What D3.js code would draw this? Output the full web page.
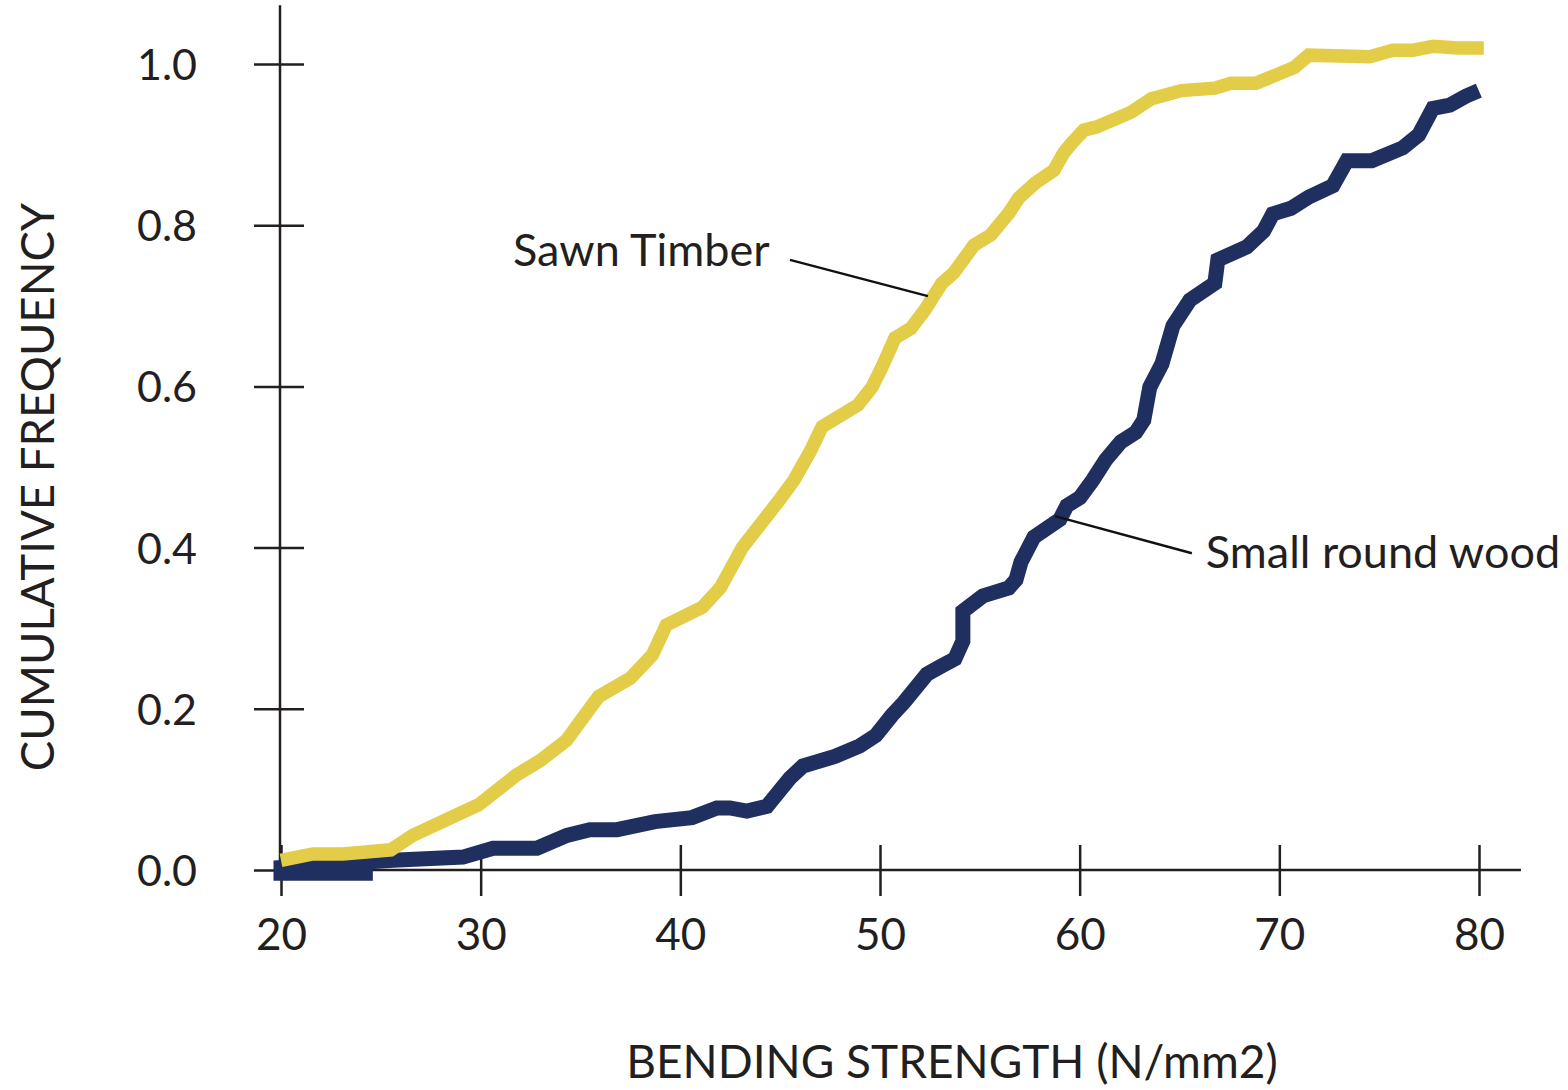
<!DOCTYPE html>
<html>
<head>
<meta charset="utf-8">
<script src="https://cdn.jsdelivr.net/npm/d3@7"></script>
<style>
  body { margin: 0; background: #fff; }
  text { font-family: Lato, "Open Sans", sans-serif; fill: #231f20; }
</style>
</head>
<body>
<div id="chart"></div>
<script>
// bending strength (N/mm2) vs cumulative frequency
const sawnX = [20.0, 21.6, 23.1, 25.5, 26.6, 29.9, 31.8, 33.0, 34.3, 35.9, 37.5, 38.6, 39.3, 41.1, 42.0, 43.1,
  44.9, 45.7, 46.5, 47.1, 48.9, 49.6, 50.1, 50.75, 51.55, 52.25, 53.1, 53.7, 54.7, 55.55, 56.45, 56.96,
  57.76, 58.71, 59.21, 59.61, 60.21, 60.86, 62.56, 63.6, 65.1, 66.77, 67.57, 68.82, 70.77, 71.47, 74.53,
  75.68, 76.68, 77.69, 78.94, 80.24];
const sawnY = [0.012, 0.020, 0.020, 0.025, 0.043, 0.081, 0.118, 0.136, 0.161, 0.215, 0.238, 0.267, 0.304, 0.326, 0.350, 0.400,
  0.457, 0.484, 0.519, 0.550, 0.577, 0.599, 0.624, 0.660, 0.672, 0.695, 0.728, 0.741, 0.775, 0.788, 0.815, 0.834,
  0.852, 0.868, 0.890, 0.902, 0.918, 0.922, 0.940, 0.957, 0.967, 0.970, 0.976, 0.976, 0.996, 1.011, 1.009,
  1.017, 1.017, 1.022, 1.020, 1.020];

const roundX = [24.6, 20.0, 20.0, 25.61, 29.11, 30.62, 32.82, 34.32, 35.47, 36.83, 38.73, 40.58, 41.83, 42.48, 43.33, 44.34,
  45.49, 46.14, 47.74, 48.99, 49.79, 50.6, 51.2, 52.35, 53.0, 53.75, 54.15, 54.15, 55.15, 56.45, 56.81, 57.06,
  57.71, 59.01, 59.36, 60.01, 60.66, 61.31, 62.06, 62.81, 63.21, 63.51, 64.12, 64.67, 65.52, 66.77, 66.92,
  68.37, 69.22, 69.67, 70.58, 71.48, 72.68, 73.38, 74.63, 76.18, 76.98, 77.69, 78.54, 79.34, 79.99];
const roundY = [-0.004, -0.004, 0.003, 0.012, 0.016, 0.027, 0.027, 0.043, 0.050, 0.050, 0.060, 0.065, 0.077, 0.077, 0.073, 0.079,
  0.114, 0.129, 0.141, 0.154, 0.167, 0.192, 0.208, 0.243, 0.252, 0.262, 0.284, 0.321, 0.340, 0.350, 0.360, 0.382,
  0.413, 0.435, 0.452, 0.462, 0.484, 0.509, 0.531, 0.543, 0.558, 0.599, 0.628, 0.675, 0.707, 0.728, 0.757,
  0.773, 0.793, 0.814, 0.821, 0.835, 0.849, 0.880, 0.880, 0.896, 0.912, 0.945, 0.949, 0.960, 0.967];

const xTicks = [20, 30, 40, 50, 60, 70, 80];
const yTicks = [0, 0.2, 0.4, 0.6, 0.8, 1.0];

// label text, anchor and leader line end points (data units)
const labels = [
  {name: "Sawn Timber", tx: 31.62, ty: 0.749, from: [45.49, 0.757], to: [52.4, 0.712]},
  {name: "Small round wood", tx: 66.32, ty: 0.375, from: [65.62, 0.393], to: [58.76, 0.439]}
];

const width = 1568, height = 1090;

const svg = d3.select("#chart")
  .append("svg")
  .attr("width", width)
  .attr("height", height);

const x = d3.scaleLinear().domain([20, 80]).range([281, 1479]);
const y = d3.scaleLinear().domain([0, 1]).range([870, 64]);

// axes
const xAxis = svg.append("g")
  .attr("transform", `translate(0,${y(0)})`)
  .call(d3.axisBottom(x).tickValues(xTicks).tickSize(0).tickFormat(d3.format("d")));
xAxis.select(".domain").remove();
xAxis.selectAll(".tick line").attr("y1", -25).attr("y2", 26).attr("stroke", "#231f20").attr("stroke-width", 2.5);
xAxis.selectAll(".tick text").attr("y", 64).attr("dy", "0.36em")
  .attr("font-size", 44).attr("fill", "#231f20").style("font-family", "Lato, sans-serif");

const yAxis = svg.append("g")
  .attr("transform", `translate(${x(20) - 1},0)`)
  .call(d3.axisLeft(y).tickValues(yTicks).tickSize(0).tickFormat(d3.format(".1f")));
yAxis.select(".domain").remove();
yAxis.selectAll(".tick line").attr("x1", -26).attr("x2", 24).attr("stroke", "#231f20").attr("stroke-width", 2.5);
yAxis.selectAll(".tick text").attr("x", -83).attr("dy", "0.36em")
  .attr("font-size", 43).attr("fill", "#231f20").style("font-family", "Lato, sans-serif");

// axis lines
svg.append("line")
  .attr("x1", x(20) - 1).attr("x2", x(20) - 1)
  .attr("y1", y(1.073)).attr("y2", y(0))
  .attr("stroke", "#231f20").attr("stroke-width", 2.5);
svg.append("line")
  .attr("x1", x(20) - 1).attr("x2", x(82.1))
  .attr("y1", y(0)).attr("y2", y(0))
  .attr("stroke", "#231f20").attr("stroke-width", 2.5);

// curves
const line = d3.line().x(d => x(d[0])).y(d => y(d[1]));

svg.append("path")
  .datum(roundX.map((v, i) => [v, roundY[i]]))
  .attr("d", line)
  .attr("fill", "none")
  .attr("stroke", "#1f2f5f")
  .attr("stroke-width", 15)
  .attr("stroke-linejoin", "miter")
  .attr("stroke-linecap", "butt");

svg.append("path")
  .datum(sawnX.map((v, i) => [v, sawnY[i]]))
  .attr("d", line)
  .attr("fill", "none")
  .attr("stroke", "#e3cc48")
  .attr("stroke-width", 13.5)
  .attr("stroke-linejoin", "miter")
  .attr("stroke-linecap", "butt");

// labels with leader lines
svg.selectAll(".leader")
  .data(labels)
  .enter().append("line")
  .attr("class", "leader")
  .attr("x1", d => x(d.from[0])).attr("y1", d => y(d.from[1]))
  .attr("x2", d => x(d.to[0])).attr("y2", d => y(d.to[1]))
  .attr("stroke", "#111").attr("stroke-width", 2.5);

svg.selectAll(".series-label")
  .data(labels)
  .enter().append("text")
  .attr("class", "series-label")
  .attr("x", d => x(d.tx))
  .attr("y", d => y(d.ty))
  .attr("font-size", 45)
  .text(d => d.name);

// axis titles
svg.append("text")
  .attr("x", 952).attr("y", 1078)
  .attr("text-anchor", "middle")
  .attr("font-size", 46)
  .text("BENDING STRENGTH (N/mm2)");

svg.append("text")
  .attr("transform", `translate(54,487) rotate(-90)`)
  .attr("text-anchor", "middle")
  .attr("font-size", 45.5)
  .text("CUMULATIVE FREQUENCY");
</script>
</body>
</html>
